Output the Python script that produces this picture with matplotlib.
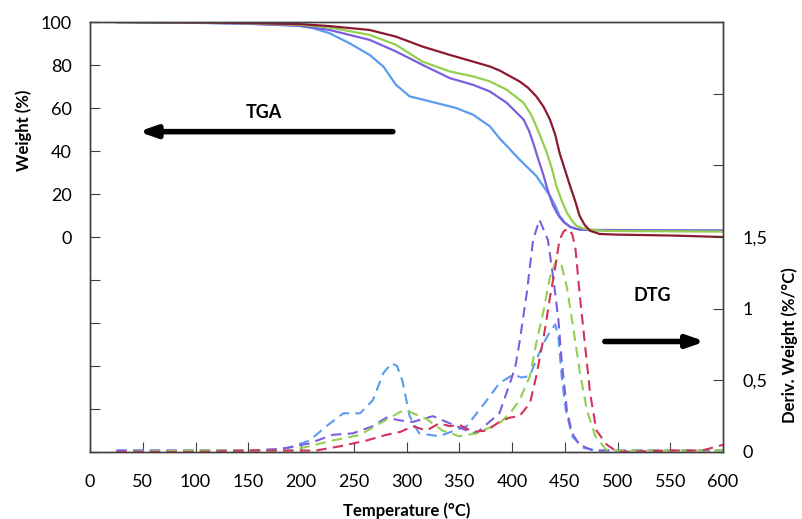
import matplotlib
matplotlib.use("Agg")
import matplotlib.pyplot as plt

plt.rcParams["font.family"] = ["Lato", "DejaVu Sans"]

# TGA curves (weight %, left axis)
tga_red_t = [25, 100, 150, 200, 227, 265, 290, 315, 341, 363, 379, 388, 407, 415, 423, 430, 436, 441, 445, 450, 455, 460, 464, 469, 474, 483, 500, 550, 600]
tga_red_w = [100, 99.8, 99.5, 99, 98.1, 96.3, 93.2, 88.6, 84.7, 81.6, 79.3, 77.5, 72.4, 69.5, 65.4, 60.5, 54.6, 47.5, 39.2, 31.5, 23.8, 16.5, 9.9, 5.5, 2.9, 1.4, 1.1, 0.7, 0]
tga_green_t = [25, 100, 150, 200, 227, 265, 290, 315, 341, 363, 379, 395, 411, 418, 423, 428, 433, 438, 442, 447, 452, 457, 461, 467, 474, 490, 600]
tga_green_w = [100, 99.8, 99.4, 98.7, 97.5, 94, 89.4, 81.6, 77, 74.7, 72.4, 68.5, 62.4, 57, 51.5, 45.5, 39.2, 31.5, 23.8, 17, 11.4, 7.5, 5.2, 4, 3.4, 2.8, 2.5]
tga_purple_t = [25, 100, 150, 200, 227, 265, 290, 315, 341, 363, 379, 395, 411, 416, 420, 425, 430, 434, 439, 444, 449, 455, 461, 470, 600]
tga_purple_w = [100, 99.7, 99.2, 98.2, 96.3, 91.7, 86.3, 80.1, 73.9, 70.8, 67.7, 62.4, 54.6, 49.5, 43.9, 36, 28.4, 21.5, 14.5, 10, 6.9, 4.8, 3.7, 3.3, 3]
tga_blue_t = [25, 100, 150, 195, 210, 227, 246, 265, 278, 290, 303, 322, 347, 363, 379, 388, 407, 423, 436, 441, 445, 450, 455, 464, 480, 600]
tga_blue_w = [100, 99.6, 99.2, 98.4, 97.3, 94.8, 90.1, 84.7, 79.3, 70.8, 65.4, 63.1, 60, 56.9, 51.5, 46, 36.1, 28.4, 19.1, 14.5, 9.9, 6.8, 4.6, 3.4, 3.1, 3]

# DTG curves (%/°C, right axis)
dtg_red_t = [25, 100, 150, 200, 214, 237, 262, 281, 294, 306, 319, 331, 341, 350, 363, 376, 388, 398, 407, 417, 423, 430, 436, 441, 445, 449, 453, 457, 460, 464, 469, 474, 480, 490, 500, 550, 580, 600]
dtg_red_d = [0.0, 0.0, 0.01, 0.01, 0.01, 0.04, 0.08, 0.12, 0.14, 0.18, 0.15, 0.2, 0.18, 0.19, 0.14, 0.15, 0.21, 0.24, 0.25, 0.34, 0.53, 0.8, 1.08, 1.29, 1.48, 1.54, 1.56, 1.52, 1.43, 1.11, 0.76, 0.41, 0.15, 0.05, 0.0, 0.01, 0.01, 0.05]
dtg_green_t = [25, 100, 150, 190, 208, 230, 256, 275, 294, 300, 319, 334, 350, 366, 388, 398, 407, 417, 423, 430, 436, 442, 447, 452, 458, 464, 471, 479, 490, 500, 600]
dtg_green_d = [0.0, 0.01, 0.01, 0.01, 0.04, 0.08, 0.12, 0.2, 0.28, 0.29, 0.23, 0.15, 0.11, 0.13, 0.2, 0.27, 0.36, 0.53, 0.76, 0.99, 1.22, 1.34, 1.3, 1.15, 0.87, 0.57, 0.29, 0.11, 0.01, 0.01, 0.01]
dtg_purple_t = [25, 100, 150, 180, 208, 230, 249, 268, 281, 294, 306, 325, 341, 357, 366, 388, 398, 403, 407, 414, 420, 426, 434, 439, 444, 447, 452, 457, 464, 477, 500, 600]
dtg_purple_d = [0.01, 0.01, 0.01, 0.02, 0.06, 0.12, 0.13, 0.18, 0.24, 0.22, 0.21, 0.25, 0.2, 0.15, 0.13, 0.27, 0.48, 0.59, 0.76, 1.11, 1.48, 1.62, 1.48, 1.22, 0.92, 0.64, 0.29, 0.13, 0.05, 0.01, 0.01, 0.01]
dtg_blue_t = [25, 100, 150, 180, 189, 208, 224, 240, 256, 268, 278, 286, 291, 296, 303, 312, 331, 357, 376, 388, 401, 409, 417, 420, 430, 436, 441, 444, 447, 451, 457, 467, 480, 500, 600]
dtg_blue_d = [0.01, 0.01, 0.01, 0.02, 0.03, 0.08, 0.18, 0.27, 0.27, 0.36, 0.55, 0.62, 0.6, 0.5, 0.25, 0.13, 0.11, 0.18, 0.36, 0.48, 0.54, 0.52, 0.53, 0.59, 0.76, 0.84, 0.89, 0.8, 0.53, 0.29, 0.11, 0.03, 0.01, 0.01, 0.01]

x_ticks = list(range(0, 601, 50))
left_ticks = list(range(-100, 101, 20))
left_labels = [str(v) if v >= 0 else "" for v in left_ticks]
right_ticks = [0, 0.5, 1, 1.5, 2, 2.5, 3]
right_labels = ["0", "0,5", "1", "1,5", "", "", ""]

c_red, c_green, c_purple, c_blue = "#8b1a2e", "#92d050", "#7b5fe0", "#5b9bf0"
c_red_d = "#d2335a"

fig = plt.figure(figsize=(8.03, 5.19), dpi=100)
ax = fig.add_axes([0.1121, 0.1291, 0.7883, 0.8285])
ax2 = ax.twinx()

for t, w, c in [(tga_blue_t, tga_blue_w, c_blue), (tga_purple_t, tga_purple_w, c_purple),
                (tga_green_t, tga_green_w, c_green), (tga_red_t, tga_red_w, c_red)]:
    ax.plot(t, w, color=c, lw=1.6, solid_joinstyle="round")

for t, d, c in [(dtg_blue_t, dtg_blue_d, c_blue), (dtg_purple_t, dtg_purple_d, c_purple),
                (dtg_green_t, dtg_green_d, c_green), (dtg_red_t, dtg_red_d, c_red_d)]:
    ax2.plot(t, d, color=c, lw=1.5, dashes=(5, 3), dash_joinstyle="round")

ax.set_xlim(0, 600)
ax.set_ylim(-100, 100)
ax2.set_ylim(0, 3)
ax.set_xticks(x_ticks)
ax.set_yticks(left_ticks)
ax.set_yticklabels(left_labels)
ax2.set_yticks(right_ticks)
ax2.set_yticklabels(right_labels)

for a in (ax, ax2):
    for s in a.spines.values():
        s.set_color("#404040")
        s.set_linewidth(1.0)
ax.tick_params(axis="both", direction="in", length=7, color="#404040", labelsize=13, pad=13)
ax.tick_params(axis="x", pad=16)
ax2.tick_params(axis="y", direction="in", length=7, color="#404040", labelsize=13, pad=14)

ax.set_xlabel("Temperature (°C)", fontsize=12, fontweight="bold", labelpad=9)
ax.set_ylabel("Weight (%)", fontsize=12, fontweight="bold")
ax.yaxis.set_label_coords(-0.0916, 0.749)
ax2.set_ylabel("Deriv. Weight (%/°C)", fontsize=12, fontweight="bold")
ax2.yaxis.set_label_coords(1.093, 0.249)

arrow = dict(arrowstyle="-|>,head_length=1.0,head_width=0.35", lw=4, color="black",
             shrinkA=0, shrinkB=0)
ax.annotate("", xy=(46, 49), xytext=(287, 49), arrowprops=arrow)
ax.text(165, 58, "TGA", fontsize=13, fontweight="bold", ha="center", va="center")
ax.annotate("", xy=(583, -48.6), xytext=(488, -48.6), arrowprops=arrow)
ax.text(533, -27, "DTG", fontsize=13, fontweight="bold", ha="center", va="center")

fig.savefig("out.png", dpi=100)
